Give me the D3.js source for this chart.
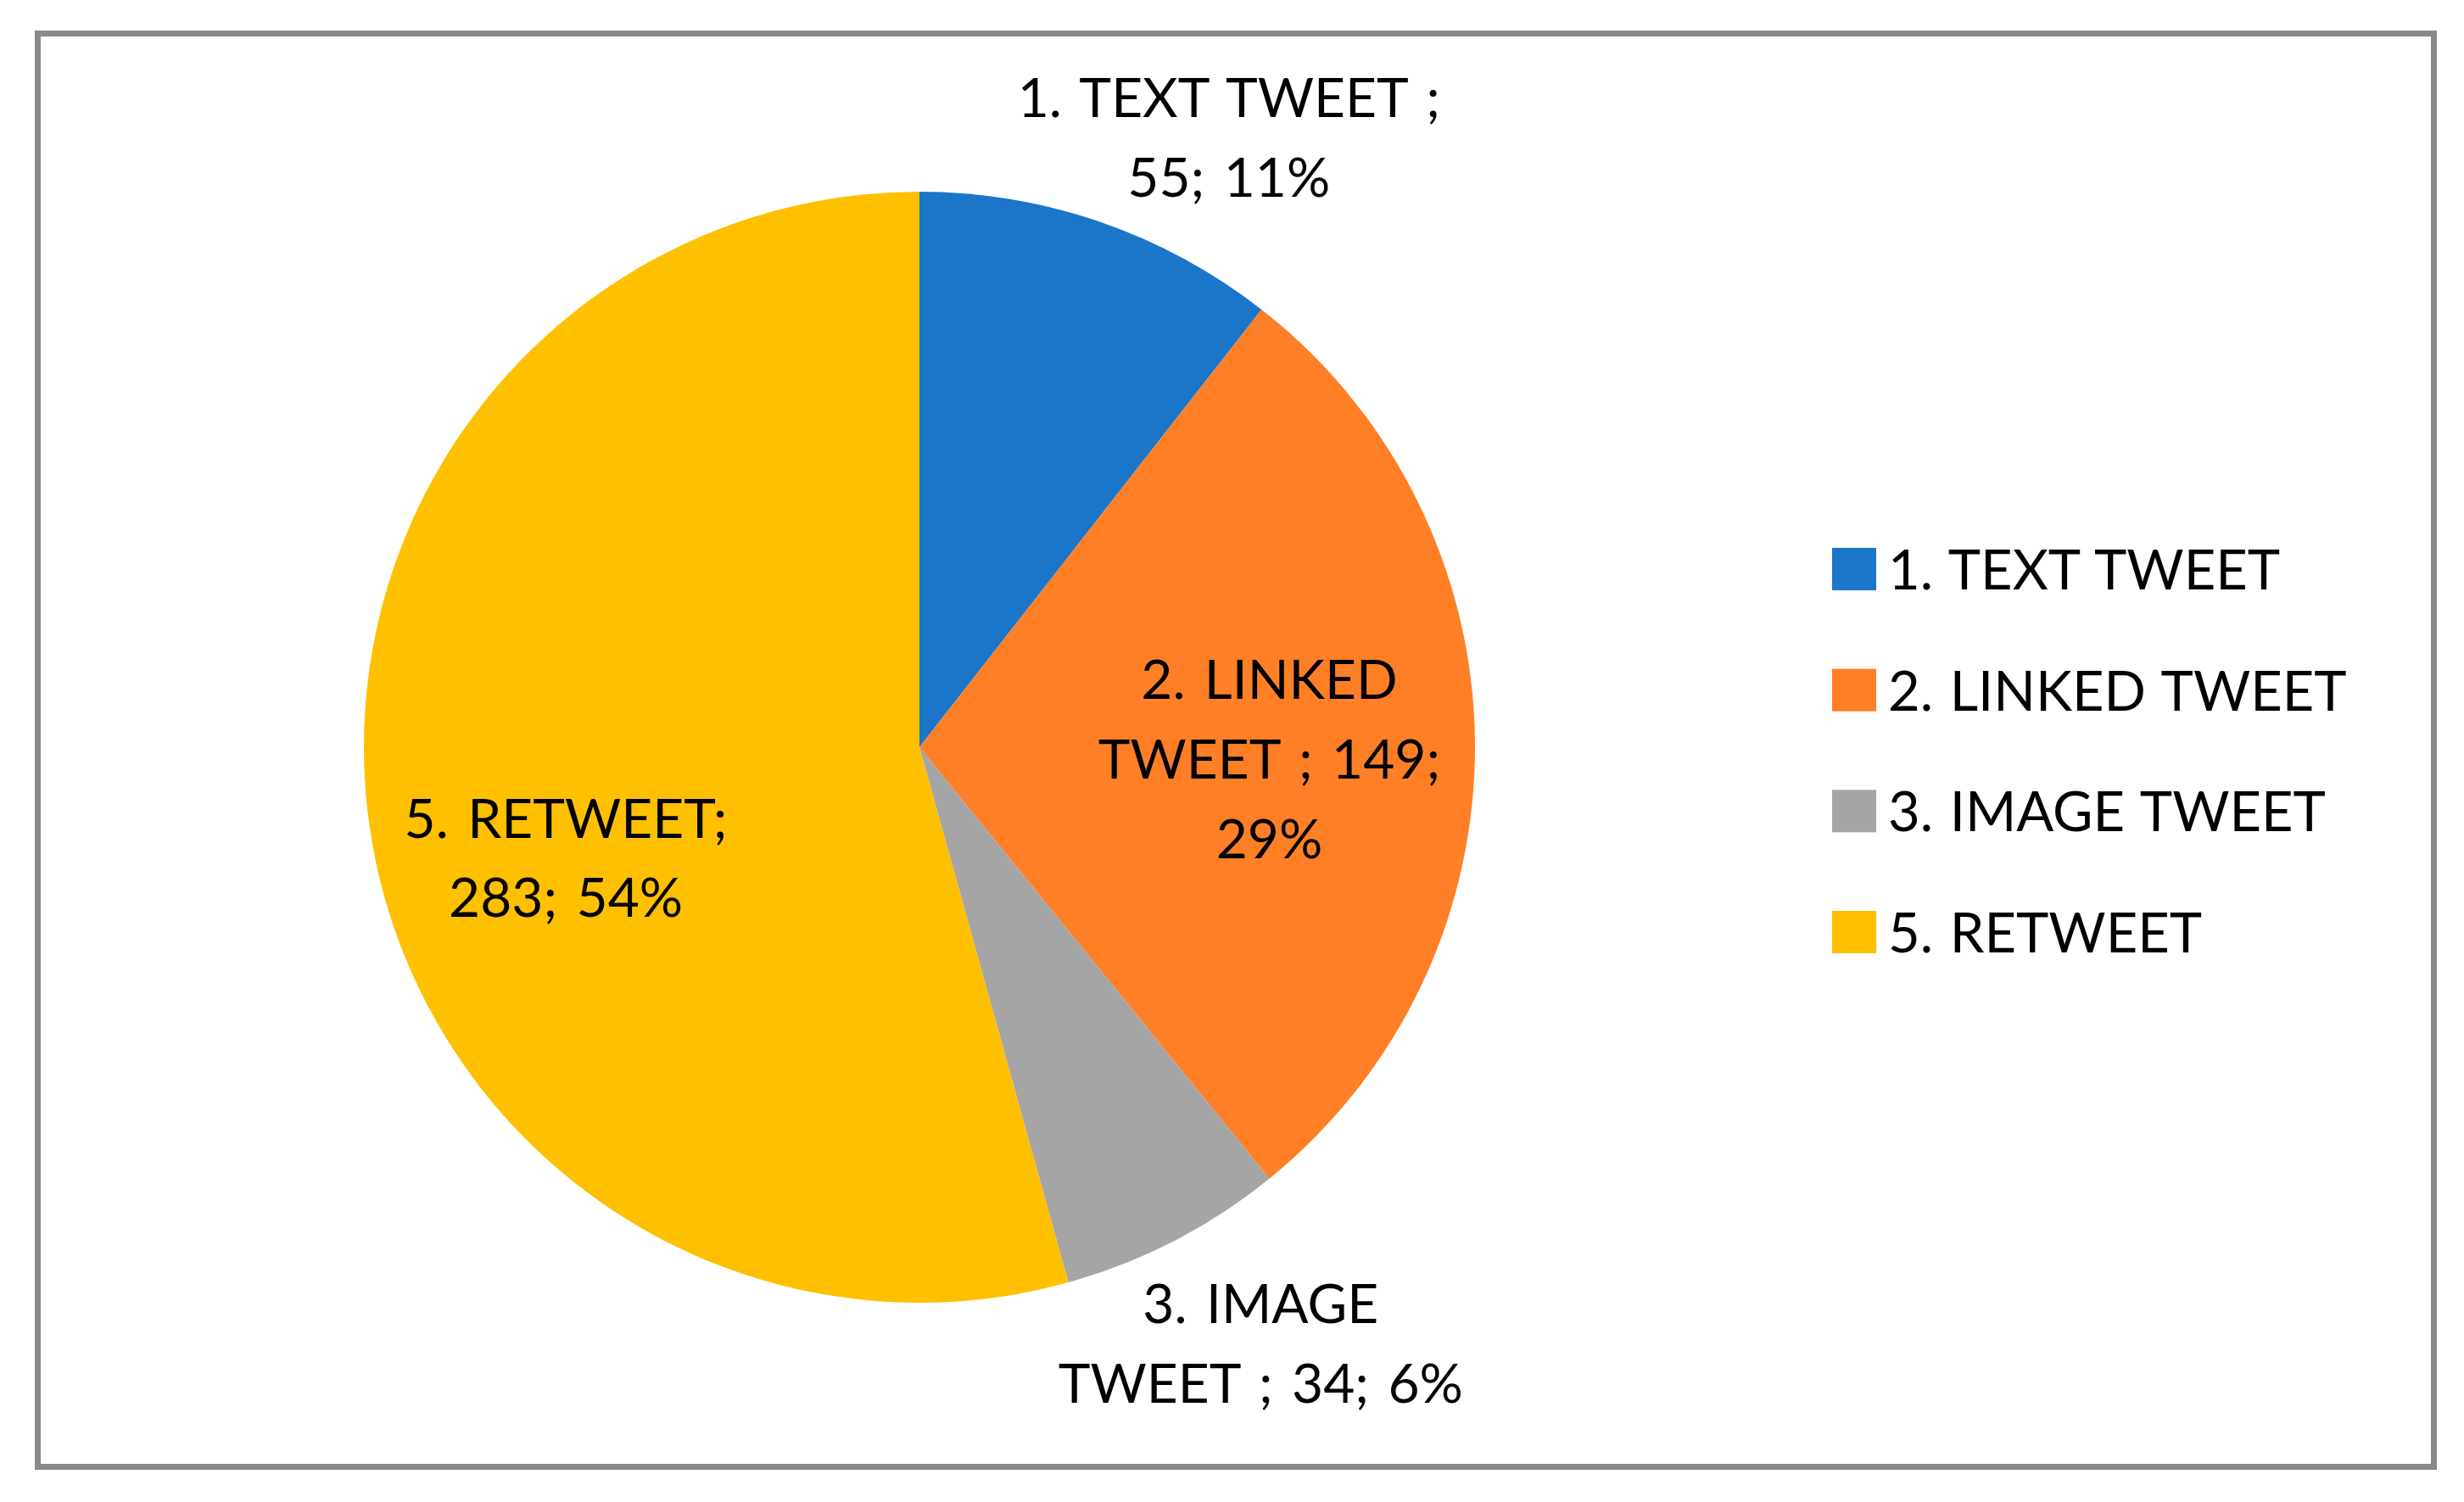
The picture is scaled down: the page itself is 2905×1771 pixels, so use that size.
<!DOCTYPE html>
<html>
<head>
<meta charset="utf-8">
<script src="https://cdn.jsdelivr.net/npm/d3@7/dist/d3.min.js"></script>
<style>
  html, body { margin: 0; padding: 0; background: #fff; }
  svg text { font-family: Lato, "Open Sans", sans-serif; fill: #000; word-spacing: 6px; }
</style>
</head>
<body>
<svg id="chart" width="2905" height="1771"></svg>
<script>
// data
var categories = ['1. TEXT TWEET', '2. LINKED TWEET', '3. IMAGE TWEET', '5. RETWEET'];
var counts = [55, 149, 34, 283];
var percentLabels = ['11%', '29%', '6%', '54%'];
var sliceColors = ['#1b75c9', '#ff7f27', '#a5a5a5', '#ffc000'];

// label text lines as excel wrapped them
var labelLines = [
  ['1. TEXT TWEET ;', '55; 11%'],
  ['2. LINKED', 'TWEET ; 149;', '29%'],
  ['3. IMAGE', 'TWEET ; 34; 6%'],
  ['5. RETWEET;', '283; 54%']
];

// layout
var W = 2905, H = 1771;
var cx = 1084, cy = 881, radius = 655;
var fontSize = 64, lineH = 94;
// where each label sits: fraction of radius + angle nudge (deg) off the slice centroid
var labelPlace = [
  {r: 1.231, da: 7.9},
  {r: 0.63, da: 2.5},
  {r: 1.236, da: -2.5},
  {r: 0.667, da: -9.6}
];

var svg = d3.select('#chart');

svg.append('rect')
  .attr('x', 44.5).attr('y', 39.5)
  .attr('width', 2825).attr('height', 1690)
  .attr('fill', '#fff')
  .attr('stroke', '#898989')
  .attr('stroke-width', 7);

var data = categories.map(function(c, i) {
  return {name: c, value: counts[i], pct: percentLabels[i], lines: labelLines[i], i: i};
});

var pie = d3.pie().sort(null).value(function(d) { return d.value; });
var arc = d3.arc().innerRadius(0).outerRadius(radius);
var arcs = pie(data);

var g = svg.append('g').attr('transform', 'translate(' + cx + ',' + cy + ')');

g.selectAll('path.slice').data(arcs).enter()
  .append('path')
    .attr('class', 'slice')
    .attr('d', arc)
    .attr('fill', function(d) { return sliceColors[d.data.i]; });

// data labels
var labels = g.selectAll('text.lbl').data(arcs).enter()
  .append('text')
    .attr('class', 'lbl')
    .attr('text-anchor', 'middle')
    .style('font-size', fontSize + 'px')
    .attr('transform', function(d) {
      var p = labelPlace[d.data.i];
      var a = (d.startAngle + d.endAngle) / 2 + p.da * Math.PI / 180;
      var r = p.r * radius;
      return 'translate(' + (Math.sin(a) * r) + ',' + (-Math.cos(a) * r) + ')';
    });

labels.each(function(d) {
  var t = d3.select(this);
  var n = d.data.lines.length;
  d.data.lines.forEach(function(line, k) {
    t.append('tspan')
      .attr('x', 0)
      .attr('y', (k - (n - 1) / 2) * lineH + fontSize * 0.36)
      .text(line);
  });
});

// legend
var legendY = d3.scalePoint()
  .domain(categories)
  .range([671, 1099]);

var legend = svg.append('g').attr('transform', 'translate(2160,0)');

var items = legend.selectAll('g.item').data(data).enter()
  .append('g')
    .attr('class', 'item')
    .attr('transform', function(d) { return 'translate(0,' + legendY(d.name) + ')'; });

items.append('rect')
  .attr('x', 0).attr('y', -25)
  .attr('width', 52).attr('height', 50)
  .attr('fill', function(d) { return sliceColors[d.i]; });

items.append('text')
  .attr('x', 66)
  .attr('y', 24)
  .style('font-size', '65px')
  .style('word-spacing', '3px')
  .text(function(d) { return d.name; });
</script>
</body>
</html>
